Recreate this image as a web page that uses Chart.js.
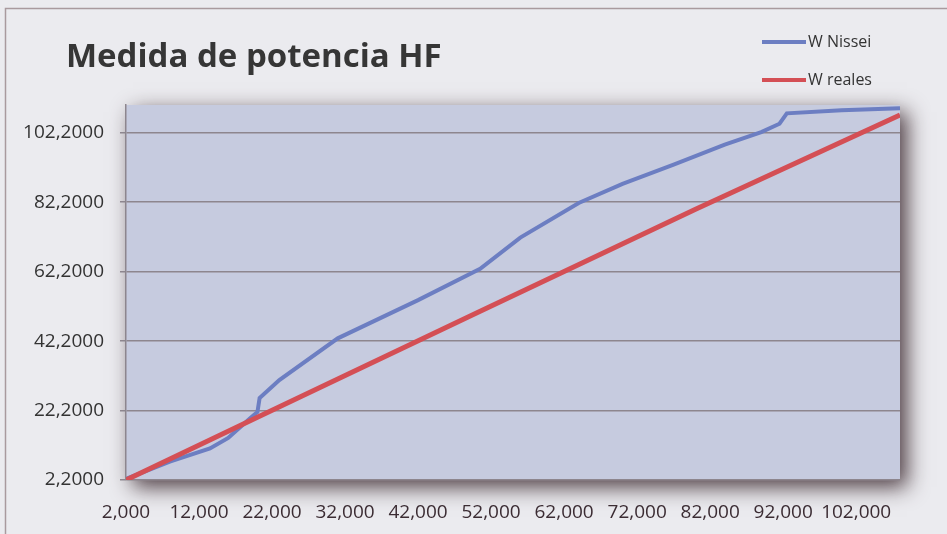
<!DOCTYPE html>
<html>
<head>
<meta charset="utf-8">
<title>Medida de potencia HF</title>
<script src="https://cdn.jsdelivr.net/npm/chart.js@4.4.1/dist/chart.umd.min.js"></script>
<style>
  html, body { margin: 0; padding: 0; background: #ebebef; }
  #wrap { width: 947px; height: 534px; }
</style>
</head>
<body>
<div id="wrap"><canvas id="chart" width="947" height="534"></canvas></div>
<script>
// Values (W)
const chartTitle = 'Medida de potencia HF';
const seriesNames = ['W Nissei', 'W reales'];
const nisseiX = [2, 8, 13.5, 16, 19, 20, 20.3, 23, 31, 42, 50.5, 56, 64, 70, 77, 84, 89, 91.5, 92.5, 100, 108];
const nisseiY = [2.5, 7.5, 11.3, 14.3, 20, 21.8, 25.8, 31, 43, 54, 63, 72, 82, 87.5, 93, 98.8, 102.4, 104.8, 107.8, 108.7, 109.3];
const realesX = [2, 20, 50, 80, 108];
const realesY = [2.2, 20.3, 50.3, 80.2, 107.3];
const xTicks = [2, 12, 22, 32, 42, 52, 62, 72, 82, 92, 102];
const yTicks = [2.2, 22.2, 42.2, 62.2, 82.2, 102.2];

const blue = '#6c7ec2';
const red = '#d44f55';
const fontFamily = '"Open Sans", Lato, sans-serif';

function toPoints(xs, ys) {
    return xs.map((x, i) => ({ x: x, y: ys[i] }));
}

// Background, frame, shadowed plot area, title and legend
const decorPlugin = {
    id: 'decor',
    beforeDraw(chart) {
        const ctx = chart.ctx;
        const a = chart.chartArea;
        ctx.save();
        ctx.fillStyle = '#ebebef';
        ctx.fillRect(0, 0, chart.width, chart.height);
        ctx.strokeStyle = '#a99a9e';
        ctx.lineWidth = 1.5;
        ctx.beginPath();
        ctx.moveTo(5.5, chart.height);
        ctx.lineTo(5.5, 8.5);
        ctx.lineTo(chart.width, 8.5);
        ctx.stroke();
        ctx.shadowColor = 'rgba(70,52,58,0.95)';
        ctx.shadowBlur = 20;
        ctx.shadowOffsetX = 7;
        ctx.shadowOffsetY = 7;
        ctx.fillStyle = '#c6cbdf';
        ctx.fillRect(a.left, a.top, a.right - a.left, a.bottom - a.top);
        ctx.restore();
    },
    afterDraw(chart) {
        const ctx = chart.ctx;
        ctx.save();
        ctx.fillStyle = '#363636';
        ctx.font = 'bold 33px ' + fontFamily;
        ctx.textBaseline = 'alphabetic';
        ctx.fillText(chartTitle, 66, 67);

        const colors = [blue, red];
        const rows = [42, 80];
        ctx.font = '16px ' + fontFamily;
        ctx.textBaseline = 'middle';
        seriesNames.forEach((name, i) => {
            ctx.strokeStyle = colors[i];
            ctx.lineWidth = 4;
            ctx.beginPath();
            ctx.moveTo(762, rows[i]);
            ctx.lineTo(806, rows[i]);
            ctx.stroke();
            ctx.fillStyle = '#333';
            ctx.fillText(name, 808, rows[i]);
        });
        ctx.restore();
    }
};

new Chart(document.getElementById('chart').getContext('2d'), {
    type: 'line',
    data: {
        datasets: [{
            label: seriesNames[0],
            data: toPoints(nisseiX, nisseiY),
            borderColor: blue,
            borderWidth: 4,
            pointRadius: 0,
            tension: 0,
            order: 1,
        }, {
            label: seriesNames[1],
            data: toPoints(realesX, realesY),
            borderColor: red,
            borderWidth: 5,
            pointRadius: 0,
            tension: 0,
            order: 0,
        }],
    },
    options: {
        responsive: false,
        devicePixelRatio: 1,
        animation: false,
        layout: { padding: { top: 105, right: 47, bottom: 0, left: 0 } },
        plugins: {
            legend: { display: false },
            title: { display: false },
            tooltip: { enabled: false },
        },
        scales: {
            x: {
                type: 'linear',
                min: 2,
                max: 108,
                afterBuildTicks: s => { s.ticks = xTicks.map(v => ({ value: v })); },
                afterFit: s => { s.height = 54; },
                grid: { display: false, drawTicks: false },
                border: { display: false },
                ticks: {
                    autoSkip: false,
                    maxRotation: 0,
                    padding: 21,
                    color: '#3b2c33',
                    font: { family: fontFamily, size: 19 },
                    callback: v => Number(v).toFixed(3).replace('.', ','),
                },
            },
            y: {
                min: 2.2,
                max: 110.2,
                afterBuildTicks: s => { s.ticks = yTicks.map(v => ({ value: v })); },
                afterFit: s => { s.width = 126; },
                grid: { color: '#8d868e', lineWidth: 1.5, tickLength: 6 },
                border: { display: true, color: '#8d868e', width: 1.5 },
                ticks: {
                    padding: 16,
                    color: '#333',
                    font: { family: fontFamily, size: 19 },
                    callback: v => Number(v).toFixed(4).replace('.', ','),
                },
            },
        },
    },
    plugins: [decorPlugin],
});
</script>
</body>
</html>
